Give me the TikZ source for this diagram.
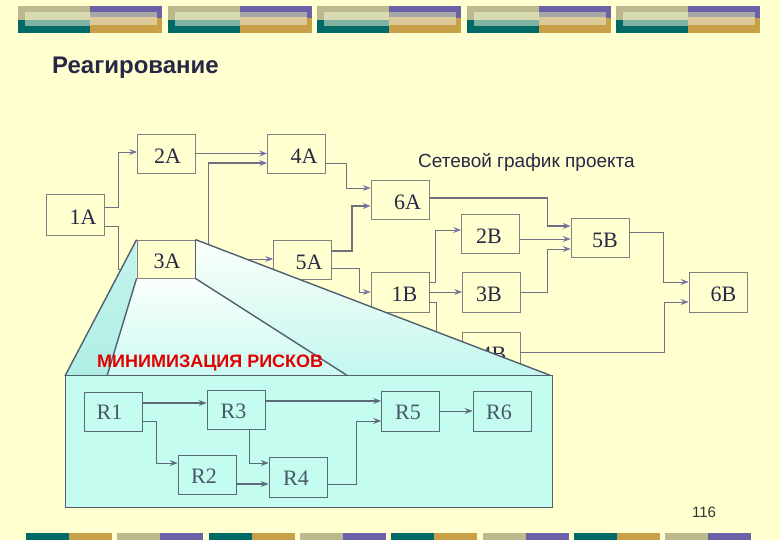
\documentclass[tikz,border=0pt]{standalone}
\usepackage{fontspec}
\setmainfont{Liberation Serif}
\newfontfamily\sansf{Liberation Sans}
\usetikzlibrary{arrows.meta}
\definecolor{bg}{RGB}{255,255,208}
\definecolor{khaki}{RGB}{188,185,143}
\definecolor{lkhaki}{RGB}{216,219,178}
\definecolor{dteal}{RGB}{0,106,102}
\definecolor{lteal}{RGB}{125,179,160}
\definecolor{purp}{RGB}{107,97,166}
\definecolor{goldc}{RGB}{199,160,71}
\definecolor{greyc}{RGB}{169,166,170}
\definecolor{ltan}{RGB}{220,203,152}
\definecolor{linec}{RGB}{112,112,128}
\definecolor{arrc}{RGB}{120,112,170}
\definecolor{boxc}{RGB}{128,128,128}
\definecolor{txtc}{RGB}{40,40,70}
\definecolor{slate}{RGB}{80,96,112}
\definecolor{ptxt}{RGB}{72,88,104}
\definecolor{pline}{RGB}{90,106,120}
\definecolor{panfill}{RGB}{196,252,240}
\definecolor{redc}{RGB}{224,0,0}
\begin{document}
\begin{tikzpicture}[x=1pt,y=-1pt,
  nb/.style={draw=boxc, line width=0.8pt, minimum width=58pt, minimum height=39pt, inner sep=0pt},
  pb/.style={draw=pline, line width=0.8pt, minimum width=58pt, minimum height=39pt, inner sep=0pt},
  lab/.style 2 args={label={[font=\fontsize{22}{22}\selectfont, text=txtc, xshift=#2pt, yshift=-2.5pt]center:#1}},
  plab/.style 2 args={label={[font=\fontsize{22}{22}\selectfont, text=ptxt, xshift=#2pt, yshift=-1pt]center:#1}},
  cn/.style={draw=linec, line width=0.8pt, -{Stealth[length=8pt,width=6pt,inset=3pt,color=arrc]}},
  ck/.style={cn, line width=1.8pt},
  pc/.style={draw=pline, line width=0.8pt, -{Stealth[length=8pt,width=6pt,inset=3pt,color=pline]}},
  pk/.style={pc, line width=1.8pt},
  fl/.style={draw=slate, line width=1.4pt}
]
\useasboundingbox (0,0) rectangle (780,540);
\fill[bg] (0,0) rectangle (780,540);
% top strip
\foreach \x in {18,168,317,467,616}{
  \fill[khaki] (\x,6) rectangle ++(72,27);
  \fill[dteal] (\x,20) rectangle ++(72,13);
  \fill[lkhaki] (\x+7,12) rectangle (\x+72,20);
  \fill[lteal] (\x+7,20) rectangle (\x+72,26);
  \fill[purp] (\x+72,6) rectangle (\x+144,18);
  \fill[goldc] (\x+72,18) rectangle (\x+144,33);
  \fill[greyc] (\x+72,12) rectangle (\x+139,17);
  \fill[ltan] (\x+72,17) rectangle (\x+139,25);
}
% bottom strip
\foreach \x in {26,208.6,391.2,573.8}{
  \fill[dteal] (\x,533) rectangle ++(43,7);
  \fill[goldc] (\x+43,533) rectangle ++(43,7);
}
\foreach \x in {117.3,299.9,482.5,665.1}{
  \fill[khaki] (\x,533) rectangle ++(43,7);
  \fill[purp] (\x+43,533) rectangle ++(43,7);
}
% network nodes
\node[nb, minimum height=41pt, lab={1A}{7.5}] (a1) at (75.5,214.5) {};
\node[nb, lab={2A}{1}] (a2) at (166.5,153.5) {};
\node[nb, lab={4A}{7.5}] (a4) at (296.5,153.5) {};
\node[nb, draw=none, minimum height=38pt] (a3) at (166,259) {};
\node[nb, lab={5A}{6.5}] (a5) at (302.5,259.5) {};
\node[nb, lab={6A}{7.5}] (a6) at (400,199.5) {};
\node[nb, lab={2B}{-1.5}] (b2) at (490.5,234) {};
\node[nb, lab={5B}{5}] (b5) at (600,237.5) {};
\node[nb, minimum height=40pt, lab={1B}{4.5}] (b1) at (400,292) {};
\node[nb, minimum height=40pt, lab={3B}{-2.5}] (b3) at (491.5,292) {};
\node[nb, minimum height=40pt, lab={6B}{5.5}] (b6) at (718,292) {};
\node[nb, minimum height=40pt, lab={4B}{2.5}] (b4) at (491,352) {};
% network connectors
\draw[cn] ([yshift=7.5pt]a1.east) -- ++(13,0) |- ([yshift=1.5pt]a2.west);
\draw[cn] ([yshift=-11.5pt]a1.east) -- ++(13,0) |- ([yshift=-10pt]a3.west);
\draw[ck] (a2.east) -- (a4.west);
\draw[ck] (a3.east) -- ++(13,0) |- ([yshift=-9.5pt]a4.west);
\draw[cn] ([yshift=-9.5pt]a4.east) -- ++(20,0) |- ([yshift=11.5pt]a6.west);
\draw[ck] ([yshift=8.5pt]a5.east) -- ++(20,0) |- ([yshift=-6.5pt]a6.west);
\draw[cn] (a3.east) -- ([yshift=0.5pt]a5.west);
\draw[cn] ([yshift=-8.5pt]a5.east) -- ++(27,0) |- (b1.west);
\draw[ck] ([yshift=1.5pt]a6.east) -- ++(118,0) |- ([yshift=11.5pt]b5.west);
\draw[cn] ([yshift=-5pt]b2.east) -- ([yshift=-1.5pt]b5.west);
\draw[cn] (b3.east) -- ++(26,0) |- ([yshift=-11.5pt]b5.west);
\draw[cn] ([yshift=10pt]b1.east) -- ++(6,0) |- ([yshift=4pt]b2.west);
\draw[cn] (b1.east) -- (b3.west);
\draw[cn] ([yshift=-10pt]b1.east) -- ++(7,0) |- (b4.west);
\draw[cn] (b4.east) -- ++(144,0) |- ([yshift=-10pt]b6.west);
\draw[cn] ([yshift=5.5pt]b5.east) -- ++(34,0) |- ([yshift=10pt]b6.west);
% funnel
\coordinate (pnw) at (65,376);
\coordinate (pne) at (552,376);
\coordinate (pil) at (107,376);
\coordinate (pir) at (348,376);
\shade[top color={rgb,255:red,196;green,244;blue,236}, bottom color={rgb,255:red,176;green,238;blue,228}]
  (a3.north west) -- (a3.south west) -- (pil) -- (pnw) -- cycle;
\shade[top color={rgb,255:red,250;green,255;blue,252}, bottom color={rgb,255:red,204;green,250;blue,242}]
  (a3.south west) -- (a3.south east) -- (pir) -- (pil) -- cycle;
\shade[top color={rgb,255:red,252;green,255;blue,250}, bottom color={rgb,255:red,194;green,247;blue,238}]
  (a3.north east) -- (pne) -- (pir) -- (a3.south east) -- cycle;
\node[nb, fill=bg, minimum height=38pt, lab={3A}{1}] (a3b) at (a3) {};
\draw[fl] (a3.north west) -- (pnw);
\draw[fl] (a3.south west) -- (pil);
\draw[fl] (a3.south east) -- (pir);
\draw[fl] (a3.north east) -- (pne);
\draw[fl] (a3.north east) -- (a3.south east);
% panel
\node[draw=slate, line width=1pt, fill=panfill, minimum width=487pt, minimum height=131pt, inner sep=0pt] (pan) at (308.5,441.5) {};
\node[pb, plab={R1}{-3.5}] (r1) at (113,411.5) {};
\node[pb, plab={R3}{-2.5}] (r3) at (236,410) {};
\node[pb, minimum height=40pt, plab={R5}{-2.5}] (r5) at (410.5,411) {};
\node[pb, minimum height=40pt, plab={R6}{-3}] (r6) at (502,411) {};
\node[pb, plab={R2}{-3}] (r2) at (207,475) {};
\node[pb, minimum height=40pt, plab={R4}{-2}] (r4) at (298,477) {};
\draw[pk] ([yshift=8.5pt]r1.east) -- ([yshift=7pt]r3.west);
\draw[pc] ([yshift=-9.5pt]r1.east) -- ++(14,0) |- ([yshift=12pt]r2.west);
\draw[pk] ([yshift=9pt]r3.east) -- ([yshift=10pt]r5.west);
\draw[pc] ([xshift=13pt]r3.south) |- ([yshift=14pt]r4.west);
\draw[pk] ([yshift=-9pt]r2.east) -- ([yshift=-7pt]r4.west);
\draw[pc] ([yshift=-7pt]r4.east) -- ++(29,0) |- ([yshift=-10pt]r5.west);
\draw[pc] (r5.east) -- (r6.west);
% texts
\node[anchor=base west, inner sep=0pt, text=txtc, font=\sansf\bfseries\fontsize{24}{28}\selectfont] (title) at (52,74) {Реагирование};
\node[anchor=base west, inner sep=0pt, text=txtc, font=\sansf\fontsize{19}{22}\selectfont] (net) at (418,168) {Сетевой график проекта};
\node[anchor=base west, inner sep=0pt, text=redc, font=\sansf\bfseries\fontsize{18}{20}\selectfont] (minr) at (97,367) {МИНИМИЗАЦИЯ РИСКОВ};
\node[inner sep=0pt, text=black!80, font=\sansf\fontsize{15}{17}\selectfont] (pg) at (704,512) {116};
\end{tikzpicture}
\end{document}
